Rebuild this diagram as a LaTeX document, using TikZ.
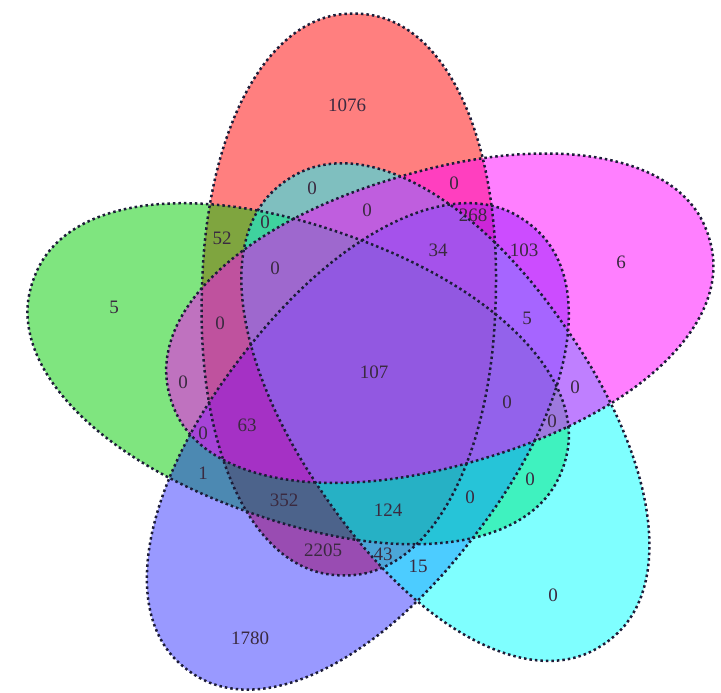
\documentclass[tikz,border=0pt]{standalone}
\usepackage{fontspec}
\setmainfont{Liberation Serif}
\usetikzlibrary{calc}
\definecolor{setred}{HTML}{FF0000}
\definecolor{setgreen}{HTML}{00CC00}
\definecolor{setblue}{HTML}{0000FF}
\definecolor{setcyan}{HTML}{00FFFF}
\definecolor{setmag}{HTML}{FF00FF}
\definecolor{rimcol}{HTML}{1C1C38}
\definecolor{numcol}{HTML}{3A2A40}
% rounded-off ellipse, long half-axis 281, short 147
\newcommand{\blobPath}{plot[domain=1:357, samples=90, smooth cycle]
  ({281*sign(cos(\x))*abs(cos(\x))^0.94}, {147*sign(sin(\x))*abs(sin(\x))^0.94})}

\begin{document}
\begin{tikzpicture}[x=1pt, y=1pt,
  setfill/.style={fill=#1, fill opacity=0.5},
  setrim/.style={draw=rimcol, line width=2.5pt, dash pattern=on 2.5pt off 3pt},
  tally/.style={font=\fontsize{19}{20}\selectfont, text=numcol, inner sep=0pt}]
  \useasboundingbox (0,0) rectangle (721,693);
  \coordinate (C) at (378,324);
  % set k: centre 80 away at 39.4+72k deg, long axis at 16.5+72k deg
  \foreach \col/\k/\op in {setred/1/0.5, setgreen/2/0.5, setblue/3/0.4, setcyan/4/0.5, setmag/0/0.5}{
    \pgfmathsetmacro{\ang}{39.4+72*\k}
    \pgfmathsetmacro{\rot}{16.5+72*\k}
    \coordinate (E\k) at ($(C)+(\ang:80)$);
    \fill[setfill=\col, fill opacity=\op, shift={(E\k)}, rotate=\rot] \blobPath;
  }
  \foreach \k in {0,...,4}{
    \pgfmathsetmacro{\rot}{16.5+72*\k}
    \draw[setrim, shift={(E\k)}, rotate=\rot] \blobPath;
  }

  % region counts
  \foreach \v/\x/\y [count=\i] in {1076/347/588, 0/312/505, 0/454/510, 52/222/455,
      0/265/471, 0/367/483, 268/473/478, 34/438/443, 103/524/443, 6/621/431,
      5/114/386, 0/275/425, 0/220/370, 0/183/311, 5/527/375, 107/374/321,
      0/507/291, 0/575/306, 0/552/272, 0/203/260, 63/247/268, 1/203/220,
      352/284/193, 124/388/183, 0/470/196, 0/530/214, 2205/323/143, 43/383/139,
      15/418/127, 0/553/98, 1780/250/55}{
    \node[tally] (n\i) at (\x,\y) {\v};
  }
\end{tikzpicture}
\end{document}
